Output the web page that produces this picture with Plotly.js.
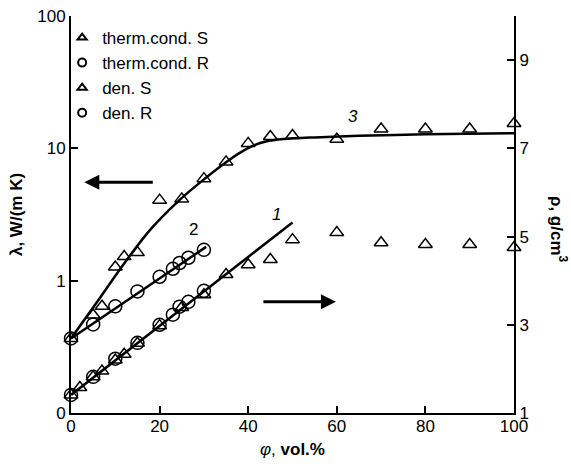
<!DOCTYPE html>
<html>
<head>
<meta charset="utf-8">
<script src="https://cdn.plot.ly/plotly-3.0.1.min.js"></script>
<style>
html,body{margin:0;padding:0;background:#fff;}
#chart{width:571px;height:466px;}
</style>
</head>
<body>
<div id="chart"></div>
<script>
// Thermal conductivity, sample S (left axis, W/(m K))
var tcS_x = [0, 5, 7, 10, 12, 15, 20, 25, 30, 35, 40, 45, 50, 60, 70, 80, 90, 100];
var tcS_y = [0.366, 0.55, 0.64, 1.27, 1.52, 1.63, 4.06, 4.15, 5.9, 7.9, 10.9, 12.3, 12.5, 11.7, 14.0, 14.0, 14.0, 15.4];
// Thermal conductivity, sample R (left axis)
var tcR_x = [0, 5, 10, 15, 20, 23, 24.5, 26.5, 30];
var tcR_y = [0.366, 0.467, 0.64, 0.83, 1.07, 1.23, 1.36, 1.49, 1.71];
// Density, sample S (right axis, g/cm3)
var denS_x = [0, 2, 5, 7, 10, 12, 15, 20, 25, 30, 35, 40, 45, 50, 60, 70, 80, 90, 100];
var denS_y = [1.41, 1.58, 1.82, 1.95, 2.2, 2.33, 2.58, 2.98, 3.39, 3.68, 4.14, 4.36, 4.48, 4.93, 5.09, 4.86, 4.82, 4.82, 4.75];
// Density, sample R (right axis)
var denR_x = [0, 5, 10, 15, 20, 23, 24.5, 26.5, 30];
var denR_y = [1.41, 1.82, 2.23, 2.59, 3.0, 3.23, 3.41, 3.52, 3.77];
// Fit curves
var fit3_x = [0, 6, 12, 18, 24.6, 29.8, 35, 38, 41, 44, 48, 55, 65, 80, 100];
var fit3_y = [0.366, 0.70, 1.35, 2.45, 4.1, 5.75, 7.85, 9.2, 10.45, 11.25, 11.75, 12.1, 12.45, 12.75, 13.0];
var fit2_x = [0, 30.5];
var fit2_y = [0.366, 1.80];
var fit1_x = [0, 50];
var fit1_y = [1.41, 5.32];
// Axis ticks
var leftTickVals = [0.1, 1, 10, 100];
var leftTickText = ["0", "1", "10", "100"];
var rightTickVals = [1, 3, 5, 7, 9];
var xTickVals = [0, 20, 40, 60, 80, 100];

var FONT = "Liberation Sans, Arial, sans-serif";
var mkLine = {color: "#000", width: 1.5};
var lgLine = {color: "#000", width: 2};

var traces = [
  {x: fit3_x, y: fit3_y, mode: "lines", line: {color: "#000", width: 2.5, shape: "spline", smoothing: 0.8}, showlegend: false, yaxis: "y", hoverinfo: "skip"},
  {x: fit2_x, y: fit2_y, mode: "lines", line: {color: "#000", width: 2.5}, showlegend: false, yaxis: "y", hoverinfo: "skip"},
  {x: fit1_x, y: fit1_y, mode: "lines", line: {color: "#000", width: 2.5}, showlegend: false, yaxis: "y2", hoverinfo: "skip"},
  {x: tcS_x, y: tcS_y, mode: "markers", name: "therm.cond. S", marker: {symbol: "triangle-up-open", size: 12, color: "#000", line: mkLine}, yaxis: "y", cliponaxis: false, showlegend: false},
  {x: tcR_x, y: tcR_y, mode: "markers", name: "therm.cond. R", marker: {symbol: "circle-open", size: 13, color: "#000", line: mkLine}, yaxis: "y", cliponaxis: false, showlegend: false},
  {x: denS_x, y: denS_y, mode: "markers", name: "den. S", marker: {symbol: "triangle-up-open", size: 12, color: "#000", line: mkLine}, yaxis: "y2", cliponaxis: false, showlegend: false},
  {x: denR_x, y: denR_y, mode: "markers", name: "den. R", marker: {symbol: "circle-open", size: 13, color: "#000", line: mkLine}, yaxis: "y2", cliponaxis: false, showlegend: false},
  // legend entries
  {x: [null], y: [null], mode: "markers", name: "therm.cond. S", marker: {symbol: "triangle-up-open", size: 8, color: "#000", line: lgLine}, showlegend: true},
  {x: [null], y: [null], mode: "markers", name: "therm.cond. R", marker: {symbol: "circle-open", size: 8, color: "#000", line: lgLine}, showlegend: true},
  {x: [null], y: [null], mode: "markers", name: "den. S", marker: {symbol: "triangle-up-open", size: 8, color: "#000", line: lgLine}, showlegend: true},
  {x: [null], y: [null], mode: "markers", name: "den. R", marker: {symbol: "circle-open", size: 8, color: "#000", line: lgLine}, showlegend: true}
];

var layout = {
  width: 571, height: 466,
  margin: {l: 71, r: 57, t: 16, b: 53},
  paper_bgcolor: "#fff", plot_bgcolor: "#fff",
  font: {family: FONT, size: 17, color: "#000"},
  showlegend: true,
  legend: {x: -0.02, y: 0.99, xanchor: "left", yanchor: "top", bgcolor: "rgba(0,0,0,0)", font: {family: FONT, size: 17, color: "#000"}, tracegroupgap: 0, itemwidth: 30},
  xaxis: {
    range: [0, 100], tickvals: xTickVals, ticks: "inside", ticklen: 7, tickwidth: 2, tickcolor: "#000",
    showline: true, linewidth: 2, linecolor: "#000", showgrid: false, zeroline: false,
    tickfont: {family: FONT, size: 17}, ticklabelstandoff: -3,
    title: {text: "<i>φ</i>, <b>vol.%</b>", font: {family: FONT, size: 17}, standoff: 8}
  },
  yaxis: {
    type: "log", range: [-1, 2], tickvals: leftTickVals, ticktext: leftTickText,
    ticks: "inside", ticklen: 7, tickwidth: 2, tickcolor: "#000",
    showline: true, linewidth: 2, linecolor: "#000", showgrid: false, zeroline: false,
    tickfont: {family: FONT, size: 17},
    title: {text: "<b>λ, W/(m K)</b>", font: {family: FONT, size: 17}, standoff: 10}
  },
  yaxis2: {
    overlaying: "y", side: "right", range: [1, 10], tickvals: rightTickVals,
    ticks: "inside", ticklen: 7, tickwidth: 2, tickcolor: "#000",
    showline: true, linewidth: 2, linecolor: "#000", showgrid: false, zeroline: false,
    tickfont: {family: FONT, size: 17}
  },
  annotations: [
    {xref: "paper", yref: "paper", x: 1.1, y: 0.463, xanchor: "center", yanchor: "middle", text: "<b>ρ, g/cm<sup>3</sup></b>", textangle: 90, showarrow: false, font: {family: FONT, size: 17}},
    {x: 46.5, xref: "x", yref: "y2", y: 5.5, text: "<i>1</i>", showarrow: false, font: {family: FONT, size: 17}},
    {x: 27.7, xref: "x", yref: "y", y: Math.log10(2.42), text: "2", showarrow: false, font: {family: FONT, size: 17}},
    {x: 63.7, xref: "x", yref: "y", y: Math.log10(17.3), text: "<i>3</i>", showarrow: false, font: {family: FONT, size: 17}},
    {x: 3.0, xref: "x", y: Math.log10(5.55), yref: "y", text: "", showarrow: true, arrowhead: 2, arrowsize: 1, arrowwidth: 3, arrowcolor: "#000", ax: 70, ay: 0},
    {x: 59.8, xref: "x", y: 3.52, yref: "y2", text: "", showarrow: true, arrowhead: 2, arrowsize: 1, arrowwidth: 3, arrowcolor: "#000", ax: -74, ay: 0}
  ]
};

Plotly.newPlot("chart", traces, layout, {staticPlot: true, displayModeBar: false});
</script>
</body>
</html>
